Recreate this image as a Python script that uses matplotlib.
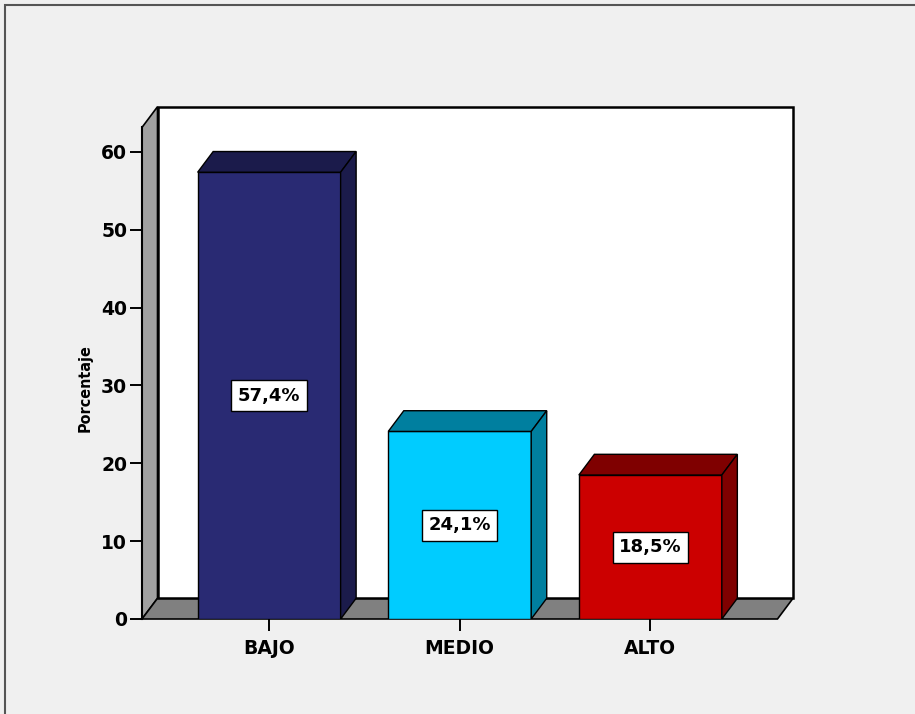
import matplotlib.pyplot as plt
from matplotlib.patches import Polygon, Rectangle

# Datos del gráfico
categorias = ['BAJO', 'MEDIO', 'ALTO']
porcentajes = [57.4, 24.1, 18.5]
etiquetas = ['57,4%', '24,1%', '18,5%']
colores_frente = ['#292a73', '#00ccff', '#cc0000']
colores_lado = ['#1b1b4b', '#007f9f', '#7f0000']
marcas_y = [0, 10, 20, 30, 40, 50, 60]

# Geometría del efecto 3D (en unidades de datos)
ancho = 0.75
x0, x1 = -0.667, 2.667
techo = 63.16
dx, dy = 0.0814, 2.66

fig = plt.figure(figsize=(9.15, 7.14), dpi=100)
fig.patch.set_facecolor('#f0f0f0')
fig.patches.append(Rectangle((5 / 915, -0.1), 2, 1.1 - 5 / 714,
                             transform=fig.transFigure, fill=False,
                             edgecolor='#555555', lw=1.5))

ax = fig.add_axes([142 / 915, 95 / 714, 651 / 915, 512.3 / 714])
ax.set_facecolor('none')

# Pared izquierda, suelo y pared del fondo
ax.add_patch(Polygon([(x0, 0), (x0 + dx, dy), (x0 + dx, techo + dy), (x0, techo)],
                     facecolor='#a0a0a0', edgecolor='black', lw=1.2, clip_on=False))
ax.add_patch(Polygon([(x0, 0), (x1, 0), (x1 + dx, dy), (x0 + dx, dy)],
                     facecolor='#808080', edgecolor='black', lw=1.2, clip_on=False))
ax.add_patch(Rectangle((x0 + dx, dy), x1 - x0, techo,
                       facecolor='white', edgecolor='black', lw=1.8, clip_on=False))

# Barras 3D
for i, v in enumerate(porcentajes):
    izq, der = i - ancho / 2, i + ancho / 2
    ax.add_patch(Rectangle((izq, 0), ancho, v, facecolor=colores_frente[i],
                           edgecolor='black', lw=1.0))
    ax.add_patch(Polygon([(izq, v), (der, v), (der + dx, v + dy), (izq + dx, v + dy)],
                         facecolor=colores_lado[i], edgecolor='black', lw=1.0))
    ax.add_patch(Polygon([(der, 0), (der + dx, dy), (der + dx, v + dy), (der, v)],
                         facecolor=colores_lado[i], edgecolor='black', lw=1.0))
    ax.text(i, v / 2, etiquetas[i], ha='center', va='center', fontsize=13,
            fontweight='bold', family='DejaVu Sans', zorder=5,
            bbox=dict(boxstyle='square,pad=0.36', facecolor='white',
                      edgecolor='black', lw=1.0))

ax.set_xlim(x0, x1 + dx)
ax.set_ylim(0, techo + dy)

for lado in ['top', 'right', 'bottom']:
    ax.spines[lado].set_visible(False)
ax.spines['left'].set_bounds(0, techo)
ax.spines['left'].set_linewidth(1.5)

ax.set_yticks(marcas_y)
ax.set_xticks(range(len(categorias)))
ax.set_xticklabels(categorias)
ax.tick_params(axis='both', length=8.6, width=1.4, direction='out',
               labelsize=13.5)
ax.tick_params(axis='y', pad=2)
ax.tick_params(axis='x', pad=6)
for etq in ax.get_xticklabels() + ax.get_yticklabels():
    etq.set_fontweight('bold')
    etq.set_family('DejaVu Sans')

ax.set_ylabel('Porcentaje', fontsize=11.5, fontweight='bold', va='center',
              family='DejaVu Sans', fontstretch='condensed')
ax.yaxis.set_label_coords(-0.0876, 0.451)

fig.savefig('out.png', dpi=100, facecolor=fig.get_facecolor())
